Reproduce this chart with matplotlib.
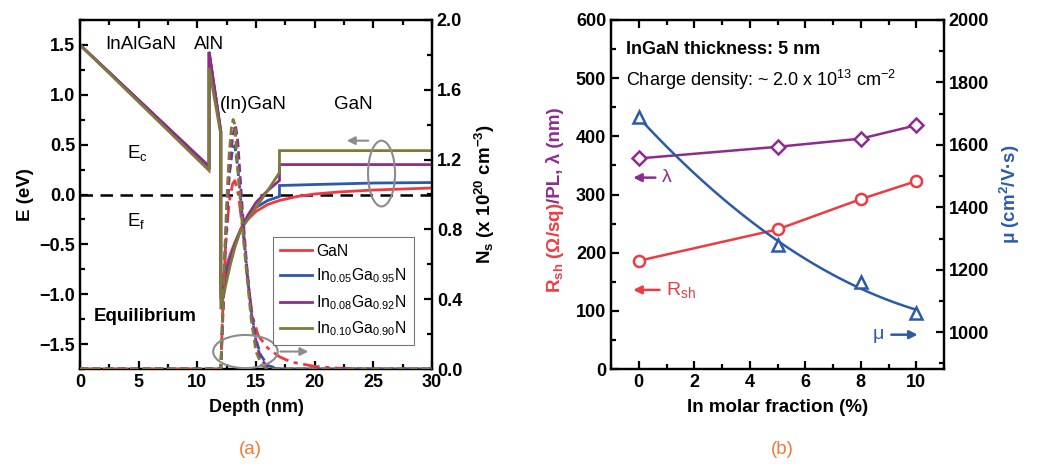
import matplotlib
matplotlib.use('Agg')
import matplotlib.pyplot as plt
import numpy as np
from matplotlib.patches import Ellipse
from matplotlib.ticker import MultipleLocator

plt.rcParams['font.family'] = ['Liberation Sans', 'DejaVu Sans']
plt.rcParams['mathtext.default'] = 'regular'
plt.rcParams['axes.linewidth'] = 1.6

RED = '#EE3B43'
BLUE = '#2B5BA8'
PURPLE = '#8E2C8E'
OLIVE = '#7D7A3A'
GRAY = '#8C8C8C'
ORANGE = '#F07A3A'

# ---------------- panel (a) data ----------------
series_names = ['GaN', 'In$_{0.05}$Ga$_{0.95}$N', 'In$_{0.08}$Ga$_{0.92}$N', 'In$_{0.10}$Ga$_{0.90}$N']
series_colors = [RED, BLUE, PURPLE, OLIVE]

# conduction band edge Ec (eV) vs depth (nm)
gan_depth = [0, 11, 11, 12, 12, 12.4, 12.8, 13.2, 13.7, 14.3, 15, 16, 17, 18.5, 20, 22, 25, 30]
gan_Ec = [1.50, 0.28, 1.43, 0.63, -0.90, -0.74, -0.60, -0.48, -0.35, -0.25, -0.17, -0.10, -0.06, -0.02, 0.005, 0.025, 0.045, 0.065]

in05_depth = [0, 11, 11, 12, 12, 12.4, 12.8, 13.2, 13.7, 14.3, 15, 16, 17, 17, 20, 25, 30]
in05_Ec = [1.50, 0.28, 1.43, 0.63, -1.00, -0.81, -0.64, -0.50, -0.35, -0.22, -0.13, -0.06, -0.02, 0.09, 0.10, 0.115, 0.12]

in08_depth = [0, 11, 11, 12, 12, 12.4, 12.8, 13.2, 13.7, 14.3, 15, 16, 17, 17, 30]
in08_Ec = [1.50, 0.28, 1.43, 0.63, -1.05, -0.85, -0.67, -0.51, -0.35, -0.21, -0.08, 0.04, 0.14, 0.30, 0.30]

in10_depth = [0, 11, 11, 12, 12, 12.4, 12.8, 13.2, 13.7, 14.3, 15, 16, 17, 17, 30]
in10_Ec = [1.50, 0.24, 1.27, 0.60, -1.15, -0.92, -0.71, -0.53, -0.35, -0.25, -0.13, 0.04, 0.22, 0.44, 0.44]

# electron density Ns (x1e20 cm^-3) vs depth (nm)
gan_n_depth = [0, 12.0, 12.15, 12.4, 12.7, 13.0, 13.2, 13.5, 13.9, 14.3, 14.7, 15.2, 16, 17, 18, 20, 22, 25, 30]
gan_n = [0, 0, 0.30, 0.70, 0.95, 1.06, 1.08, 1.00, 0.78, 0.50, 0.30, 0.19, 0.12, 0.07, 0.04, 0.015, 0.005, 0, 0]

in05_n_depth = [0, 12.0, 12.15, 12.4, 12.7, 13.0, 13.2, 13.45, 13.8, 14.2, 14.6, 15.0, 15.4, 16, 17, 30]
in05_n = [0, 0, 0.30, 0.75, 1.10, 1.26, 1.28, 1.15, 0.90, 0.58, 0.33, 0.17, 0.08, 0.02, 0, 0]

in08_n_depth = [0, 12.0, 12.15, 12.4, 12.7, 13.0, 13.25, 13.45, 13.8, 14.2, 14.6, 15.0, 15.4, 16, 17, 30]
in08_n = [0, 0, 0.25, 0.70, 1.10, 1.33, 1.40, 1.30, 0.95, 0.60, 0.32, 0.16, 0.06, 0.01, 0, 0]

in10_n_depth = [0, 12.0, 12.1, 12.3, 12.5, 12.7, 12.9, 13.05, 13.2, 13.45, 13.8, 14.2, 14.6, 15.0, 15.5, 16, 30]
in10_n = [0, 0, 0.20, 0.60, 0.95, 1.22, 1.38, 1.43, 1.40, 1.14, 0.85, 0.55, 0.28, 0.10, 0.02, 0, 0]

Ec_sets = [(gan_depth, gan_Ec), (in05_depth, in05_Ec), (in08_depth, in08_Ec), (in10_depth, in10_Ec)]
n_sets = [(gan_n_depth, gan_n), (in05_n_depth, in05_n), (in08_n_depth, in08_n), (in10_n_depth, in10_n)]
n_styles = [(0, (6, 2, 1.5, 2)), (0, (3, 1.5)), (0, (3, 1.5)), (0, (3, 1.5))]

# ---------------- panel (b) data ----------------
in_fraction = [0, 5, 8, 10]
rsh = [186, 240, 292, 323]
pl_lambda = [362, 382, 396, 419]
mobility = [1690, 1280, 1160, 1062]

fig = plt.figure(figsize=(10.56, 4.67), dpi=100)

# ================= panel (a) =================
ax = fig.add_axes([80/1056, 1-369/467, 352/1056, 349/467])
ax2 = ax.twinx()
for (d, e), c in zip(Ec_sets, series_colors):
    ax.plot(d, e, color=c, lw=2.0, solid_joinstyle='miter', zorder=3)
ax.axhline(0, color='black', lw=1.8, ls=(0, (5, 3)), zorder=2)
for (d, n), c, s in zip(n_sets, series_colors, n_styles):
    ax2.plot(d, n, color=c, lw=2.0, ls=s, zorder=3)

ax.set_xlim(0, 30)
ax.set_ylim(-1.75, 1.75)
ax2.set_ylim(0, 2.0)
ax.set_xticks([0, 5, 10, 15, 20, 25, 30])
ax.xaxis.set_minor_locator(MultipleLocator(2.5))
ax.yaxis.set_major_locator(MultipleLocator(0.5))
ax.yaxis.set_minor_locator(MultipleLocator(0.25))
ax2.yaxis.set_major_locator(MultipleLocator(0.4))
ax2.yaxis.set_minor_locator(MultipleLocator(0.2))
ax.tick_params(which='both', direction='in', top=True, right=False, width=1.6)
ax.tick_params(which='major', length=6, labelsize=13)
ax.tick_params(which='minor', length=3.5)
ax2.tick_params(which='both', direction='in', width=1.6)
ax2.tick_params(which='major', length=6, labelsize=13)
ax2.tick_params(which='minor', length=3.5)

ax.set_xlabel('Depth (nm)', fontsize=13, fontweight='bold', labelpad=6)
ax.set_ylabel('E (eV)', fontsize=13.5, fontweight='bold', labelpad=4)
ax2.set_ylabel('N$_s$ (x 10$^{20}$ cm$^{-3}$)', fontsize=13.5, fontweight='bold', labelpad=8)

ax.text(5.2, 1.50, 'InAlGaN', fontsize=13.5, ha='center', va='center')
ax.text(11.0, 1.50, 'AlN', fontsize=13.5, ha='center', va='center')
ax.text(14.8, 0.90, '(In)GaN', fontsize=13.5, ha='center', va='center')
ax.text(23.3, 0.90, 'GaN', fontsize=13.5, ha='center', va='center')
ax.text(4.0, 0.42, 'E$_c$', fontsize=13.5, ha='left', va='center')
ax.text(4.0, -0.27, 'E$_f$', fontsize=13.5, ha='left', va='center')
ax.text(1.2, -1.22, 'Equilibrium', fontsize=13.5, fontweight='bold', ha='left', va='center')

ax.add_patch(Ellipse((25.7, 0.21), 2.3, 0.66, fill=False, ec=GRAY, lw=1.5, zorder=4))
ax.annotate('', xy=(22.5, 0.54), xytext=(24.8, 0.54),
            arrowprops=dict(arrowstyle='-|>', color=GRAY, lw=1.5, mutation_scale=12), zorder=4)
ax2.add_patch(Ellipse((14.1, 0.10), 5.5, 0.19, fill=False, ec=GRAY, lw=1.5, zorder=4))
ax2.annotate('', xy=(19.7, 0.10), xytext=(16.85, 0.10),
             arrowprops=dict(arrowstyle='-|>', color=GRAY, lw=1.5, mutation_scale=12), zorder=4)

handles = [plt.Line2D([], [], color=c, lw=2.0) for c in series_colors]
leg = ax2.legend(handles, series_names, loc='lower right', bbox_to_anchor=(0.97, 0.045),
                 fontsize=11.3, frameon=True, fancybox=False, edgecolor='#555555',
                 handlelength=2.0, handletextpad=0.3, labelspacing=0.5, borderpad=0.45)
leg.get_frame().set_linewidth(0.8)
leg.set_zorder(5)

fig.text(250/1056, 1-450/467, '(a)', color=ORANGE, fontsize=13.5, ha='center', va='center')

# ================= panel (b) =================
bx = fig.add_axes([611/1056, 1-369/467, 333/1056, 349/467])
bx2 = bx.twinx()
bx.plot(in_fraction, rsh, color=RED, lw=1.8, marker='o', ms=8, mfc='white', mec=RED, mew=1.8, zorder=3)
bx.plot(in_fraction, pl_lambda, color=PURPLE, lw=1.8, marker='D', ms=7.5, mfc='white', mec=PURPLE, mew=1.8, zorder=3)
coef = np.polyfit(in_fraction, mobility, 2)
xf = np.linspace(in_fraction[0], in_fraction[-1], 100)
bx2.plot(xf, np.polyval(coef, xf), color=BLUE, lw=1.8, zorder=3)
bx2.plot(in_fraction, mobility, ls='none', marker='^', ms=9, mfc='white', mec=BLUE, mew=1.8, zorder=4)

bx.set_xlim(-1, 11)
bx.set_ylim(0, 600)
bx2.set_ylim(882, 2000)
bx.xaxis.set_major_locator(MultipleLocator(2))
bx.xaxis.set_minor_locator(MultipleLocator(1))
bx.yaxis.set_major_locator(MultipleLocator(100))
bx.yaxis.set_minor_locator(MultipleLocator(50))
bx2.yaxis.set_major_locator(MultipleLocator(200))
bx2.yaxis.set_minor_locator(MultipleLocator(100))
bx.tick_params(which='both', direction='in', top=True, right=False, width=1.6)
bx.tick_params(which='major', length=6, labelsize=13)
bx.tick_params(which='minor', length=3.5)
bx2.tick_params(which='both', direction='in', width=1.6)
bx2.tick_params(which='major', length=6, labelsize=13)
bx2.tick_params(which='minor', length=3.5)
for a in (ax, ax2, bx, bx2):
    for lab in a.get_xticklabels() + a.get_yticklabels():
        lab.set_fontweight('bold')
bx.set_xlabel('In molar fraction (%)', fontsize=13.5, fontweight='bold', labelpad=6)
bx2.set_ylabel('\u03bc (cm$^2$/V\u00b7s)', fontsize=13.5, fontweight='bold', color=BLUE, labelpad=6)

bx.text(-0.45, 549, 'InGaN thickness: 5 nm', fontsize=13, fontweight='bold', ha='left', va='center')
bx.text(-0.45, 497, 'Charge density: ~ 2.0 x 10$^{13}$ cm$^{-2}$', fontsize=13, ha='left', va='center')

bx.annotate('', xy=(-0.3, 329), xytext=(0.7, 329),
            arrowprops=dict(arrowstyle='-|>', color=PURPLE, lw=1.8, mutation_scale=12))
bx.text(0.85, 329, '\u03bb', color=PURPLE, fontsize=14, ha='left', va='center')
bx.annotate('', xy=(-0.3, 136), xytext=(0.85, 136),
            arrowprops=dict(arrowstyle='-|>', color=RED, lw=1.8, mutation_scale=12))
bx.text(1.0, 136, 'R$_{sh}$', color=RED, fontsize=14, ha='left', va='center')
bx.annotate('', xy=(10.15, 59), xytext=(9.0, 59),
            arrowprops=dict(arrowstyle='-|>', color=BLUE, lw=1.8, mutation_scale=12))
bx.text(8.85, 59, '\u03bc', color=BLUE, fontsize=14, ha='right', va='center')

fig.text(782/1056, 1-450/467, '(b)', color=ORANGE, fontsize=13.5, ha='center', va='center')

# multi-coloured left y label for panel (b)
fig.canvas.draw()
r = fig.canvas.get_renderer()
parts = [('R$_{sh}$ (\u03a9/sq)', RED), ('/PL, \u03bb (nm)', PURPLE)]
xlab = 555/1056
ycen = 1 - 200/467
tmp = []
tot = 0
for s, c in parts:
    t = fig.text(0, 0, s, rotation=90, fontsize=13.5, fontweight='bold', color=c, ha='center', va='bottom')
    h = t.get_window_extent(r).height / fig.bbox.height
    tmp.append((t, h))
    tot += h
y0 = ycen - tot/2
for t, h in tmp:
    t.set_position((xlab, y0))
    y0 += h

fig.savefig('out.png', dpi=100)
